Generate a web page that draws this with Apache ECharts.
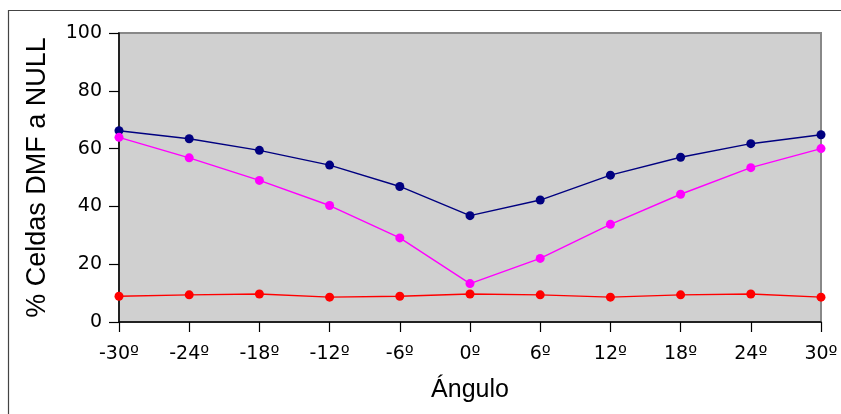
<!DOCTYPE html>
<html>
<head>
<meta charset="utf-8">
<script src="https://cdn.jsdelivr.net/npm/echarts@6/dist/echarts.min.js"></script>
<style>
  html, body { margin: 0; padding: 0; background: #ffffff; }
  #chart { width: 841px; height: 414px; }
</style>
</head>
<body>
<div id="chart"></div>
<script>
// Viewing angles (degrees)
const angles = [-30, -24, -18, -12, -6, 0, 6, 12, 18, 24, 30];
const angleLabels = angles.map(a => a + 'º');

// Percentage of DMF cells set to NULL, per series
const serieAzul = [66.2, 63.4, 59.4, 54.3, 46.9, 36.8, 42.2, 50.8, 57.0, 61.7, 64.8];
const serieMagenta = [63.9, 56.8, 49.0, 40.3, 29.1, 13.3, 22.0, 33.8, 44.2, 53.4, 60.0];
const serieRoja = [8.9, 9.4, 9.7, 8.6, 8.9, 9.7, 9.4, 8.6, 9.4, 9.7, 8.6];

const yTicks = { min: 0, max: 100, interval: 20 };

const chart = echarts.init(document.getElementById('chart'), null, { renderer: 'canvas' });

function lineSeries(name, data, color) {
  return {
    name: name,
    type: 'line',
    data: data,
    symbol: 'circle',
    symbolSize: 9,
    lineStyle: { color: color, width: 1.4 },
    itemStyle: { color: color },
    z: 3
  };
}

chart.setOption({
  animation: false,
  backgroundColor: '#ffffff',
  textStyle: { fontFamily: 'DejaVu Sans' },
  graphic: [{
    type: 'rect',
    shape: { x: 8.5, y: 10.5, width: 900, height: 500 },
    style: { fill: 'none', stroke: '#444444', lineWidth: 1.2 },
    silent: true,
    z: 0
  }],
  grid: {
    left: 119, right: 20, top: 33, bottom: 92,
    show: true,
    backgroundColor: '#d0d0d0',
    borderColor: '#888888',
    borderWidth: 2
  },
  xAxis: {
    type: 'category',
    data: angleLabels,
    boundaryGap: false,
    name: 'Ángulo',
    nameLocation: 'middle',
    nameGap: 56,
    nameTextStyle: { fontFamily: 'Liberation Sans', fontSize: 25, color: '#000000' },
    axisLine: { show: true, lineStyle: { color: '#000000', width: 1.5 } },
    axisTick: { show: true, length: 10, alignWithLabel: true, lineStyle: { color: '#000000', width: 1.2 } },
    axisLabel: { fontSize: 19, color: '#000000', margin: 23, interval: 0 },
    splitLine: { show: false }
  },
  yAxis: {
    type: 'value',
    min: yTicks.min,
    max: yTicks.max,
    interval: yTicks.interval,
    name: '% Celdas DMF a NULL',
    nameLocation: 'middle',
    nameGap: 68,
    nameTextStyle: { fontFamily: 'Liberation Sans', fontSize: 27, color: '#000000' },
    axisLine: { show: true, lineStyle: { color: '#000000', width: 1.5 } },
    axisTick: { show: true, length: 10, lineStyle: { color: '#000000', width: 1.2 } },
    axisLabel: { fontSize: 19, color: '#000000', margin: 17 },
    splitLine: { show: false }
  },
  series: [
    lineSeries('Azul', serieAzul, '#000080'),
    lineSeries('Magenta', serieMagenta, '#ff00ff'),
    lineSeries('Roja', serieRoja, '#ff0000')
  ]
});
</script>
</body>
</html>
